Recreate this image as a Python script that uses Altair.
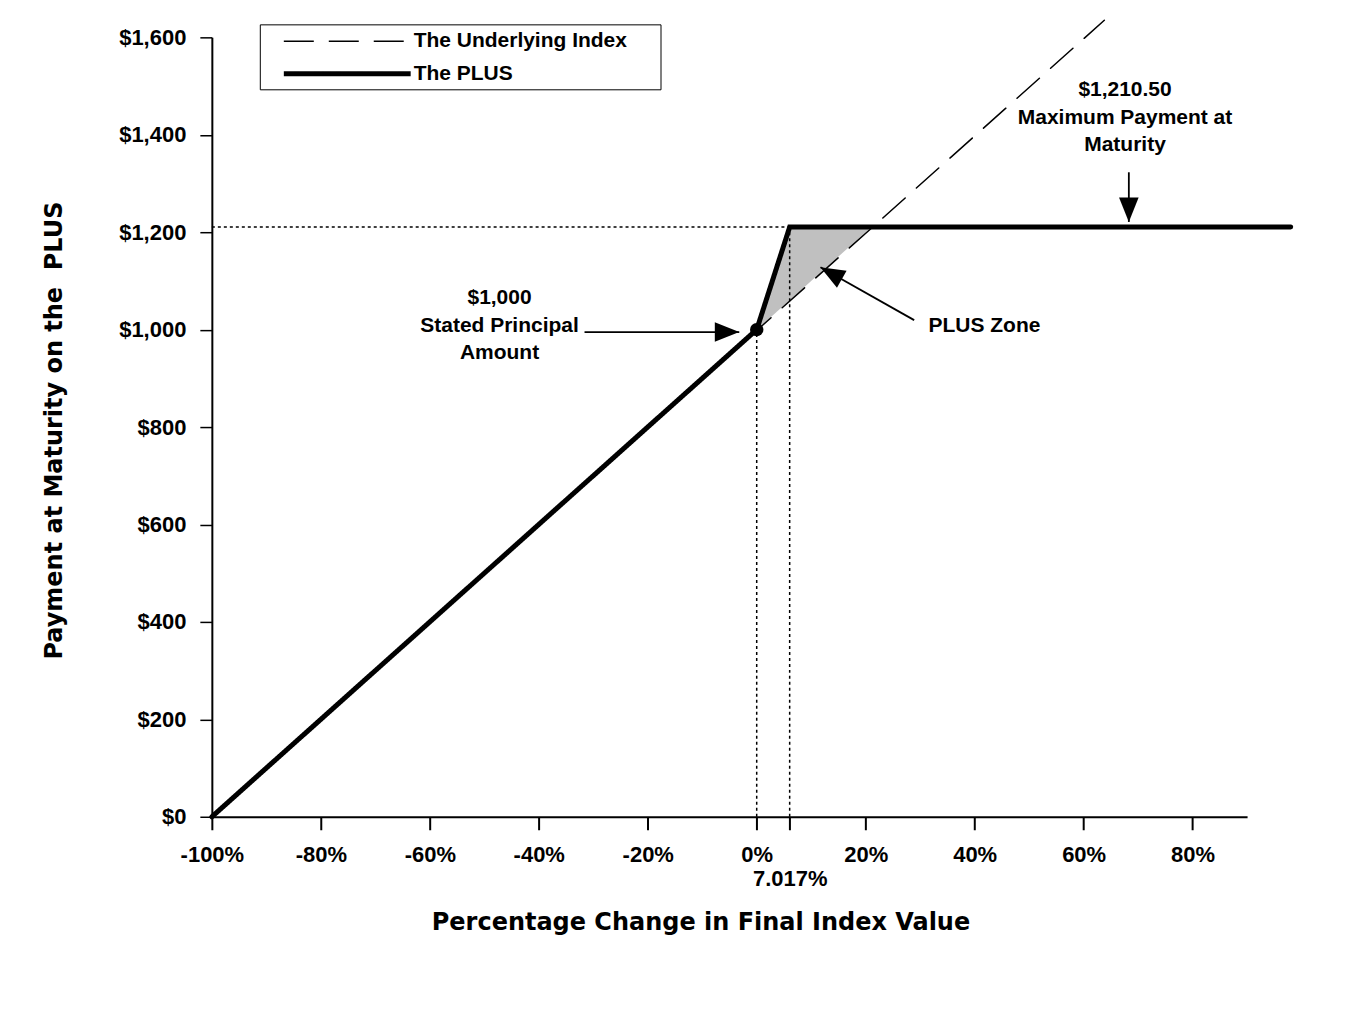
import altair as alt
import pandas as pd

# ---- data ----
series_names = ["The Underlying Index", "The PLUS"]
index_x = [-100, 63.8]
index_y = [0, 1635]
plus_x = [-100, 0, 6.05, 98]
plus_y = [0, 1000, 1210.5, 1210.5]

zone_x = [0, 6.05, 21.05]
zone_top = [1000, 1210.5, 1210.5]
zone_bottom = [1000, 1060.5, 1210.5]

# dotted reference lines (x1, y1, x2, y2)
ref_x1 = [0, 6.05, -100]
ref_y1 = [0, 0, 1210.5]
ref_x2 = [0, 6.05, 6.05]
ref_y2 = [1000, 1210.5, 1210.5]

# annotations
ann_text = ["$1,210.50", "Maximum Payment at", "Maturity",
            "$1,000", "Stated Principal", "Amount", "PLUS Zone"]
ann_x = [67.6, 67.6, 67.6, -47.2, -47.2, -47.2, 41.8]
ann_y = [1491, 1434, 1378, 1065, 1007, 952, 1007]

# arrows: tail -> tip, head angle
arr_x1 = [68.3, -31.6, 28.9]
arr_y1 = [1323, 995, 1019.5]
arr_x2 = [68.3, -3.2, 11.7]
arr_y2 = [1221, 995, 1128]
arr_angle = [0, 270, 119.4]

x_ticks = [-100, -80, -60, -40, -20, 0, 6.05, 20, 40, 60, 80]
y_ticks = [0, 200, 400, 600, 800, 1000, 1200, 1400, 1600]

# ---- frames ----
lines_df = pd.DataFrame(
    {"series": [series_names[0]] * len(index_x) + [series_names[1]] * len(plus_x),
     "x": index_x + plus_x,
     "y": index_y + plus_y}
)
zone_df = pd.DataFrame({"x": zone_x, "top": zone_top, "bottom": zone_bottom})
ref_df = pd.DataFrame({"x1": ref_x1, "y1": ref_y1, "x2": ref_x2, "y2": ref_y2})
ann_df = pd.DataFrame({"t": ann_text, "x": ann_x, "y": ann_y})
arr_df = pd.DataFrame({"x1": arr_x1, "y1": arr_y1, "x2": arr_x2, "y2": arr_y2, "a": arr_angle})
dot_df = pd.DataFrame({"x": [0], "y": [1000]})

XD = [-100, 90]
YD = [0, 1600]
xs = alt.Scale(domain=XD, nice=False, zero=False)
ys = alt.Scale(domain=YD, nice=False, zero=False)

LBL_FONT = "Liberation Sans"
TTL_FONT = "DejaVu Sans"

x_axis = alt.Axis(
    values=x_ticks,
    labelExpr="datum.value == 6.05 ? ['', '7.017%'] : datum.value + '%'",
    labelFont=LBL_FONT, labelFontWeight="bold", labelFontSize=22,
    labelColor="black", labelPadding=15, labelOverlap=False, labelFlush=False,
    labelBound=False, labelLineHeight=24,
    tickSize=13, tickWidth=2, tickColor="black",
    domainColor="black", domainWidth=2, grid=False,
    title="Percentage Change in Final Index Value",
    titleFont=TTL_FONT, titleFontWeight="bold", titleFontSize=24,
    titleColor="black", titleX=489, titleY=106, titleAlign="center",
    titleBaseline="middle",
)
y_axis = alt.Axis(
    values=y_ticks,
    labelExpr="'$' + format(datum.value, ',')",
    labelFont=LBL_FONT, labelFontWeight="bold", labelFontSize=22,
    labelColor="black", labelPadding=14, labelOverlap=False, labelFlush=False,
    tickSize=12, tickWidth=1.5, tickColor="black",
    domainColor="black", domainWidth=2, grid=False,
    title="Payment at Maturity on the\u00a0 PLUS",
    titleFont=TTL_FONT, titleFontWeight="bold", titleFontSize=24,
    titleColor="black", titleX=-157, titleY=393, titleAngle=270,
    titleAlign="center", titleBaseline="middle",
)

base_x = alt.X("x:Q", scale=xs, axis=x_axis)
base_y = alt.Y("y:Q", scale=ys, axis=y_axis)


def make_legend():
    return alt.Legend(
        title="MM", titleOrient="right", titleColor="white",
        titleFont=LBL_FONT, titleFontSize=12, titlePadding=8,
        orient="none", legendX=48, legendY=-13,
        symbolType="M-5.77,0H5.77", symbolSize=484, symbolStrokeColor="black",
        symbolFillColor="transparent", symbolOffset=69,
        labelFont=LBL_FONT, labelFontWeight="bold", labelFontSize=21,
        labelColor="black", labelOffset=53, labelLimit=400,
        strokeColor="black", fillColor="white", padding=5, rowPadding=9,
    )


zone = alt.Chart(zone_df).mark_area(color="#c0c0c0", clip=False, opacity=1).encode(
    x=alt.X("x:Q", scale=xs, axis=x_axis),
    y=alt.Y("top:Q", scale=ys, axis=y_axis),
    y2="bottom:Q",
)

refs = alt.Chart(ref_df).mark_rule(color="black", strokeWidth=1.5, strokeDash=[3, 3], clip=False).encode(
    x=alt.X("x1:Q", scale=xs), y=alt.Y("y1:Q", scale=ys), x2="x2:Q", y2="y2:Q"
)

lines = alt.Chart(lines_df).mark_line(color="black", clip=False, strokeCap="round").encode(
    x=base_x,
    y=base_y,
    strokeDash=alt.StrokeDash(
        "series:N",
        scale=alt.Scale(domain=series_names, range=[[30, 15], [1, 0]]),
        legend=make_legend(),
    ),
    strokeWidth=alt.StrokeWidth(
        "series:N",
        scale=alt.Scale(domain=series_names, range=[1.5, 5]),
        legend=make_legend(),
    ),
)

dot = alt.Chart(dot_df).mark_point(filled=True, color="black", size=180, opacity=1, clip=False).encode(
    x=alt.X("x:Q", scale=xs), y=alt.Y("y:Q", scale=ys)
)

shafts = alt.Chart(arr_df).mark_rule(color="black", strokeWidth=1.8, clip=False).encode(
    x=alt.X("x1:Q", scale=xs), y=alt.Y("y1:Q", scale=ys), x2="x2:Q", y2="y2:Q"
)
heads = alt.Chart(arr_df).mark_point(
    shape="M0,0L-0.4,-1L0.4,-1Z", filled=True, color="black", size=2400, opacity=1,
    strokeWidth=0, clip=False,
).encode(
    x=alt.X("x2:Q", scale=xs), y=alt.Y("y2:Q", scale=ys),
    angle=alt.Angle("a:Q", scale=None),
)

texts = alt.Chart(ann_df).mark_text(
    font=LBL_FONT, fontSize=21, fontWeight="bold", color="black",
    align="center", baseline="middle", clip=False,
).encode(
    x=alt.X("x:Q", scale=xs), y=alt.Y("y:Q", scale=ys), text="t:N"
)

chart = alt.layer(zone, refs, lines, dot, shafts, heads, texts).properties(
    width=1036, height=780,
    autosize=alt.AutoSizeParams(type="none"),
    padding={"left": 204, "top": 29, "right": 100, "bottom": 180},
    background="white",
).configure_view(stroke=None)

chart.save("out.html", embed_options={"renderer": "svg", "actions": False})
